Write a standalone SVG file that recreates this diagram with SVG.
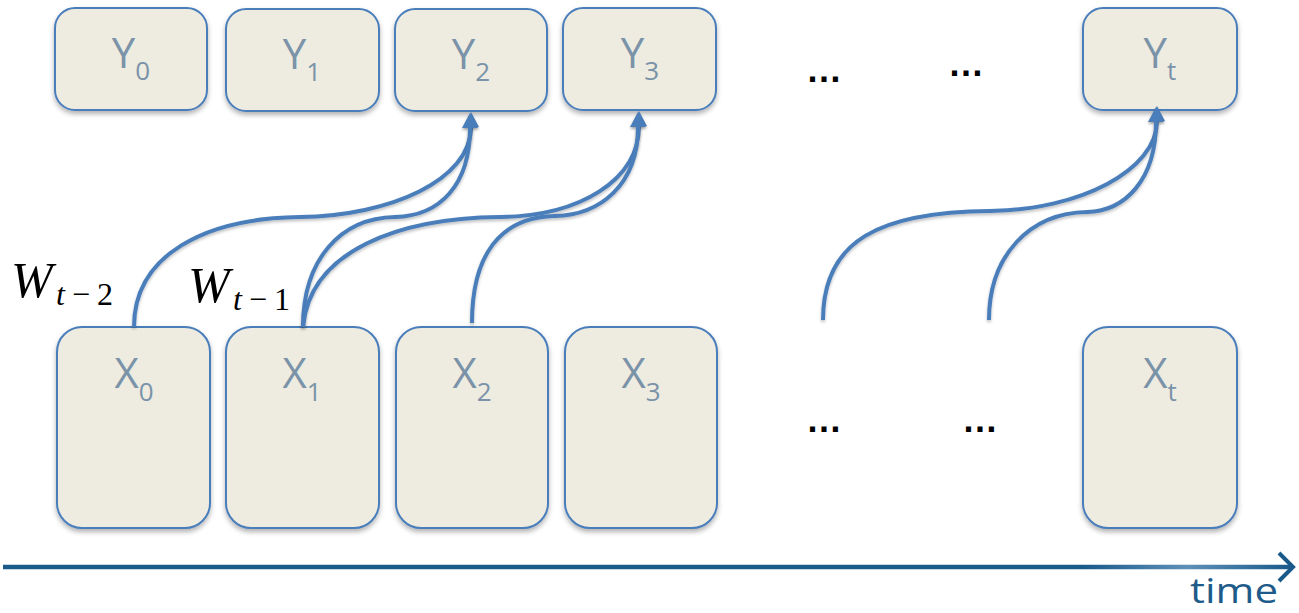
<svg xmlns="http://www.w3.org/2000/svg" width="1299" height="613" viewBox="0 0 1299 613">
<style>
.box{fill:#EEEBE1;stroke:#4A7EBB;stroke-width:2;filter:url(#sh)}
.lbl{font-family:"Open Sans","Liberation Sans",sans-serif;font-size:42px;fill:#7A93A8;text-anchor:middle}
.sub{font-size:26px}
.con{fill:none;stroke:#4A7EBB;stroke-width:4;marker-end:url(#ah);filter:url(#lsh)}
.dots{font-family:"Liberation Sans",sans-serif;font-size:36px;font-weight:bold;fill:#000}
.w{font-family:"Liberation Serif","DejaVu Serif",serif;font-style:italic;font-size:50px;fill:#000}
.ws{font-size:32px;font-style:normal;letter-spacing:7px}
</style>
<defs>
<filter id="sh" x="-10%" y="-10%" width="120%" height="130%">
<feDropShadow dx="0" dy="3" stdDeviation="2.5" flood-color="#000" flood-opacity="0.3"/>
</filter>
<filter id="lsh" x="-10%" y="-10%" width="120%" height="130%">
<feDropShadow dx="0" dy="2" stdDeviation="1.5" flood-color="#000" flood-opacity="0.25"/>
</filter>
<marker id="ah" markerUnits="userSpaceOnUse" markerWidth="16" markerHeight="16" refX="0" refY="8" orient="auto" viewBox="0 0 16 16">
<path d="M0,0 L15,8 L0,16 z" fill="#4A7EBB"/>
</marker>
<linearGradient id="tg" gradientUnits="userSpaceOnUse" x1="3" y1="0" x2="1290" y2="0">
<stop offset="0" stop-color="#1A5A8A"/>
<stop offset="0.84" stop-color="#1A5A8A"/>
<stop offset="0.92" stop-color="#5E90B8"/>
<stop offset="1" stop-color="#1A5A8A"/>
</linearGradient>
</defs>

<g id="Y0"><rect class="box" x="55" y="8" width="152" height="102" rx="20"/><text class="lbl" x="131" y="68">Y<tspan class="sub" dy="12">0</tspan></text></g>
<g id="Y1"><rect class="box" x="226" y="9" width="153" height="102" rx="20"/><text class="lbl" x="302" y="69">Y<tspan class="sub" dy="12">1</tspan></text></g>
<g id="Y2"><rect class="box" x="395" y="9" width="152" height="102" rx="20"/><text class="lbl" x="471" y="69">Y<tspan class="sub" dy="12">2</tspan></text></g>
<g id="Y3"><rect class="box" x="563" y="8" width="153" height="102" rx="20"/><text class="lbl" x="640" y="68">Y<tspan class="sub" dy="12">3</tspan></text></g>
<g id="Yt"><rect class="box" x="1083" y="8" width="154" height="102" rx="20"/><text class="lbl" x="1160" y="68">Y<tspan class="sub" dy="12">t</tspan></text></g>

<g id="X0"><rect class="box" x="57" y="327" width="153" height="201" rx="25"/><text class="lbl" x="134" y="388">X<tspan class="sub" dy="13">0</tspan></text></g>
<g id="X1"><rect class="box" x="226" y="327" width="153" height="201" rx="25"/><text class="lbl" x="302" y="388">X<tspan class="sub" dy="13">1</tspan></text></g>
<g id="X2"><rect class="box" x="396" y="327" width="152" height="201" rx="25"/><text class="lbl" x="472" y="388">X<tspan class="sub" dy="13">2</tspan></text></g>
<g id="X3"><rect class="box" x="565" y="327" width="152" height="201" rx="25"/><text class="lbl" x="641" y="388">X<tspan class="sub" dy="13">3</tspan></text></g>
<g id="Xt"><rect class="box" x="1083" y="327" width="154" height="201" rx="25"/><text class="lbl" x="1160" y="388">X<tspan class="sub" dy="13">t</tspan></text></g>

<g id="connectors">
<path class="con" d="M134,327 C134,255 205,218 300,217 C390,216 471,180 471,127"/>
<path class="con" d="M303,327 C303,260 340,218 395,217 C440,216 470,185 470,128"/>
<path class="con" d="M303,327 C310,250 400,218 500,217 C580,216 639,180 639,126"/>
<path class="con" d="M472,323 C472,255 500,217 555,216 C600,215 638,185 638,127"/>
<path class="con" d="M823,320 C823,240 880,212 990,211 C1080,210 1157,170 1157,121"/>
<path class="con" d="M989,320 C989,255 1030,213 1087,212 C1125,211 1156,180 1156,122"/>
</g>

<g id="labels">
<text class="w" x="11" y="297">W<tspan class="ws" x="56" dy="8"><tspan font-style="italic">t</tspan>−2</tspan></text>
<text class="w" x="188" y="302">W<tspan class="ws" x="233" dy="8"><tspan font-style="italic">t</tspan>−1</tspan></text>
<text class="dots" x="806" y="82">…</text>
<text class="dots" x="948" y="76">…</text>
<text class="dots" x="806" y="432">…</text>
<text class="dots" x="962" y="432">…</text>
</g>

<g id="timeaxis">
<line x1="3" y1="567" x2="1290" y2="567" stroke="url(#tg)" stroke-width="4.5"/>
<polyline points="1279,553 1293,567 1279,581" fill="none" stroke="#1A5A8A" stroke-width="4"/>
<text x="1190" y="603" font-family="Open Sans,Liberation Sans,sans-serif" font-size="34" fill="#1F5B8A" textLength="88" lengthAdjust="spacingAndGlyphs">time</text>
</g>
</svg>
